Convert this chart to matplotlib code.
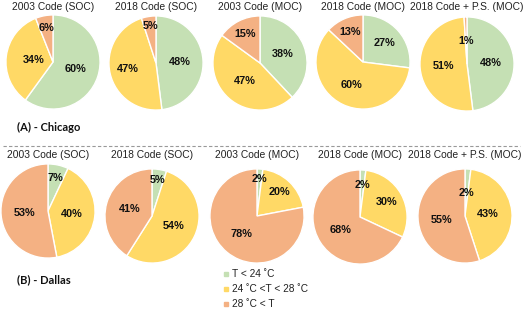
import matplotlib
matplotlib.use("Agg")
import matplotlib.pyplot as plt
from matplotlib.lines import Line2D
import numpy as np

W, H = 525, 310

titles = ["2003 Code (SOC)", "2018 Code (SOC)", "2003 Code (MOC)",
          "2018 Code (MOC)", "2018 Code + P.S. (MOC)"]
categories = ["T < 24 \u02daC", "24 \u02daC <T < 28 \u02daC", "28 \u02daC < T"]

chicago = [[60, 34, 6], [48, 47, 5], [38, 47, 15], [27, 60, 13], [48, 51, 1]]
dallas = [[7, 40, 53], [5, 54, 41], [2, 20, 78], [2, 30, 68], [2, 43, 55]]

colors = ["#c5e0b4", "#ffd966", "#f4b183"]

# layout (pixels): pie centres, radius, label distances
top_centers = [(53, 62), (156, 63), (260, 63), (363, 62), (467, 64)]
bot_centers = [(48, 211), (152, 216), (257, 216), (360, 217), (465, 216)]
radius = 48
top_label_dist = [[0.5, 0.42, 0.73], [0.5, 0.62, 0.8], [0.51, 0.5, 0.68],
                  [0.61, 0.55, 0.69], [0.5, 0.5, 0.48]]
bot_label_dist = [[0.72, 0.5, 0.51], [0.78, 0.5, 0.5], [0.78, 0.69, 0.51],
                  [0.68, 0.65, 0.5], [0.49, 0.49, 0.5]]

fig = plt.figure(figsize=(W / 100, H / 100), dpi=100)
fig.patch.set_facecolor("white")

title_font = dict(family="Liberation Sans", fontsize=7.4, color="#222222")
legend_font = dict(family="Liberation Sans", fontsize=7.3, color="#222222")


def draw_pie(cx, cy, values, dists, title, title_y):
    r = radius
    ax = fig.add_axes([(cx - r) / W, 1 - (cy + r) / H, 2 * r / W, 2 * r / H])
    ax.pie(values, colors=colors, startangle=90, counterclock=False,
           radius=1, wedgeprops=dict(edgecolor="white", linewidth=1.0))
    total = sum(values)
    start = 90.0
    for v, d in zip(values, dists):
        ang = start - 360.0 * v / total / 2
        start -= 360.0 * v / total
        x = d * np.cos(np.radians(ang))
        y = d * np.sin(np.radians(ang))
        ax.text(x, y, f"{v}%", ha="center", va="center", family="Liberation Sans",
                fontweight="bold", fontsize=7.8, color="#111111")
    ax.set_xlim(-1.02, 1.02)
    ax.set_ylim(-1.02, 1.02)
    ax.set_aspect("equal")
    ax.axis("off")
    fig.text(cx / W, 1 - title_y / H, title, ha="center", va="center", **title_font)


for (cx, cy), vals, d, t in zip(top_centers, chicago, top_label_dist, titles):
    draw_pie(cx, cy, vals, d, t, 7)
for (cx, cy), vals, d, t in zip(bot_centers, dallas, bot_label_dist, titles):
    draw_pie(cx, cy, vals, d, t, 155)

fig.text(17 / W, 1 - 127 / H, "(A) - Chicago", ha="left", va="center",
         family="Lato", fontweight="bold", fontsize=8.0, color="#111111")
fig.text(17 / W, 1 - 280 / H, "(B) - Dallas", ha="left", va="center",
         family="Lato", fontweight="bold", fontsize=8.0, color="#111111")

fig.add_artist(Line2D([3 / W, 520 / W], [1 - 146 / H, 1 - 146 / H],
                      transform=fig.transFigure, color="#999999",
                      linestyle=(0, (3, 2)), linewidth=0.8))

for i, (lab, c) in enumerate(zip(categories, colors)):
    yy = 1 - (274 + 15 * i) / H
    fig.add_artist(Line2D([226 / W], [yy], transform=fig.transFigure, marker="s",
                          markersize=3.3, color=c, linestyle="none"))
    fig.text(232 / W, yy, lab, ha="left", va="center", **legend_font)

fig.savefig("out.png", dpi=100, facecolor="white")
